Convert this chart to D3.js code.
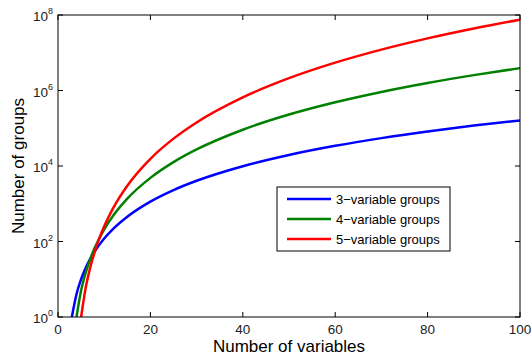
<!DOCTYPE html>
<html>
<head>
<meta charset="utf-8">
<script src="https://cdn.jsdelivr.net/npm/d3@7"></script>
<style>
  body { margin: 0; background: #fff; }
  svg { display: block; font-family: "Liberation Sans", Arial, sans-serif; }
</style>
</head>
<body>
<div id="chart"></div>
<script>
const config = {
    width: 532,
    height: 361,
    marginTop: 15,
    marginRight: 12,
    marginBottom: 44,
    marginLeft: 58
};

// number of variables (x) and number of groups for each series
const nVars3 = [3, 4, 5, 6, 7, 8, 10, 12, 15, 20, 25, 30, 40, 50, 60, 70, 80, 90, 100];
const groups3 = [1, 4, 10, 20, 35, 56, 120, 220, 455, 1140, 2300, 4060, 9880, 19600, 34220, 54740, 82160, 117480, 161700];

const nVars4 = [4, 5, 6, 7, 8, 10, 12, 15, 20, 25, 30, 40, 50, 60, 70, 80, 90, 100];
const groups4 = [1, 5, 15, 35, 70, 210, 495, 1365, 4845, 12650, 27405, 91390, 230300, 487635, 916895, 1581580, 2555190, 3921225];

const nVars5 = [5, 6, 7, 8, 10, 12, 15, 20, 25, 30, 40, 50, 60, 70, 80, 90, 100];
const groups5 = [1, 6, 21, 56, 252, 792, 3003, 15504, 53130, 142506, 658008, 2118760, 5461512, 12103014, 24040016, 43949268, 75287520];

const seriesNames = ['3\u2212variable groups', '4\u2212variable groups', '5\u2212variable groups'];
const seriesColors = ['#0000ff', '#008000', '#ff0000'];

const xTicks = [0, 20, 40, 60, 80, 100];
const yTickExps = [0, 2, 4, 6, 8];

const series = [
    { name: seriesNames[0], color: seriesColors[0], values: nVars3.map((n, i) => ({ n: n, g: groups3[i] })) },
    { name: seriesNames[1], color: seriesColors[1], values: nVars4.map((n, i) => ({ n: n, g: groups4[i] })) },
    { name: seriesNames[2], color: seriesColors[2], values: nVars5.map((n, i) => ({ n: n, g: groups5[i] })) }
];

const svg = d3.select('#chart')
    .append('svg')
    .attr('width', config.width)
    .attr('height', config.height);

const x0 = config.marginLeft, x1 = config.width - config.marginRight;
const y0 = config.height - config.marginBottom, y1 = config.marginTop;

const xScale = d3.scaleLinear().domain([0, 100]).range([x0, x1]);
const yScale = d3.scaleLog().domain([1, 1e8]).range([y0, y1]);

// curves, clipped to the plot box
svg.append('clipPath')
    .attr('id', 'plot-clip')
    .append('rect')
    .attr('x', x0).attr('y', y1)
    .attr('width', x1 - x0).attr('height', y0 - y1);

const line = d3.line()
    .curve(d3.curveMonotoneX)
    .x(d => xScale(d.n))
    .y(d => yScale(d.g));

svg.append('g')
    .attr('clip-path', 'url(#plot-clip)')
    .selectAll('path')
    .data(series)
    .join('path')
    .attr('fill', 'none')
    .attr('stroke', d => d.color)
    .attr('stroke-width', 2.5)
    .attr('stroke-linejoin', 'round')
    .attr('d', d => line(d.values));

// frame
svg.append('rect')
    .attr('x', x0).attr('y', y1)
    .attr('width', x1 - x0).attr('height', y0 - y1)
    .attr('fill', 'none')
    .attr('stroke', '#000')
    .attr('stroke-width', 1);

// inward ticks on all four sides
const tickLen = 5;
const ticks = svg.append('g').attr('stroke', '#000').attr('stroke-width', 1);
xTicks.forEach(t => {
    const x = xScale(t);
    ticks.append('line').attr('x1', x).attr('x2', x).attr('y1', y0).attr('y2', y0 - tickLen);
    ticks.append('line').attr('x1', x).attr('x2', x).attr('y1', y1).attr('y2', y1 + tickLen);
});
yTickExps.forEach(e => {
    const y = yScale(Math.pow(10, e));
    ticks.append('line').attr('x1', x0).attr('x2', x0 + tickLen).attr('y1', y).attr('y2', y);
    ticks.append('line').attr('x1', x1).attr('x2', x1 - tickLen).attr('y1', y).attr('y2', y);
});

// tick labels
svg.append('g')
    .selectAll('text')
    .data(xTicks)
    .join('text')
    .attr('x', d => xScale(d))
    .attr('y', y0 + 17)
    .attr('text-anchor', 'middle')
    .attr('font-size', 13.5)
    .attr('fill', '#222')
    .text(d => d);

const yLabels = svg.append('g')
    .selectAll('text')
    .data(yTickExps)
    .join('text')
    .attr('x', x0 - 5)
    .attr('y', d => yScale(Math.pow(10, d)) + 6)
    .attr('text-anchor', 'end')
    .attr('font-size', 13.5)
    .attr('fill', '#222');
yLabels.append('tspan').text('10');
yLabels.append('tspan')
    .attr('dy', -7)
    .attr('font-size', 9)
    .text(d => d);

// axis titles
svg.append('text')
    .attr('x', (x0 + x1) / 2)
    .attr('y', y0 + 35)
    .attr('text-anchor', 'middle')
    .attr('font-size', 17)
    .attr('fill', '#000')
    .text('Number of variables');

svg.append('text')
    .attr('transform', `translate(24,${(y0 + y1) / 2}) rotate(-90)`)
    .attr('text-anchor', 'middle')
    .attr('font-size', 17)
    .attr('fill', '#000')
    .text('Number of groups');

// legend
const legend = svg.append('g').attr('transform', 'translate(277,187)');
legend.append('rect')
    .attr('width', 173).attr('height', 64)
    .attr('fill', '#fff')
    .attr('stroke', '#000')
    .attr('stroke-width', 1);
series.forEach((s, i) => {
    const y = 12 + i * 20;
    legend.append('line')
        .attr('x1', 10).attr('x2', 54)
        .attr('y1', y).attr('y2', y)
        .attr('stroke', s.color)
        .attr('stroke-width', 2.5);
    legend.append('text')
        .attr('x', 59)
        .attr('y', y + 5)
        .attr('font-size', 13)
        .attr('fill', '#000')
        .text(s.name);
});
</script>
</body>
</html>
